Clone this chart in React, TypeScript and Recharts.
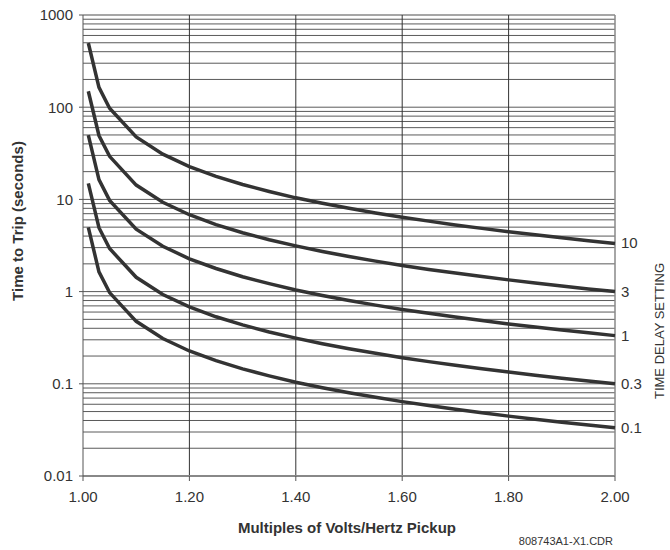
import {
  LineChart,
  Line,
  XAxis,
  YAxis,
  ReferenceLine,
  LabelList,
} from "recharts";

// multiples of V/Hz pickup
const multiples = [
  1.01, 1.03, 1.05, 1.1, 1.15, 1.2, 1.25, 1.3, 1.35, 1.4, 1.45, 1.5, 1.55, 1.6,
  1.65, 1.7, 1.75, 1.8, 1.85, 1.9, 1.95, 2.0,
];

// time to trip (s) for each time delay setting
const td10 = [
  497, 164, 97.6, 47.6, 31.0, 22.7, 17.8, 14.5, 12.2, 10.4, 9.07, 8.0, 7.13,
  6.41, 5.81, 5.29, 4.85, 4.46, 4.13, 3.83, 3.57, 3.33,
];
const td3 = [
  149, 49.3, 29.3, 14.3, 9.3, 6.82, 5.33, 4.35, 3.65, 3.13, 2.72, 2.4, 2.14,
  1.92, 1.74, 1.59, 1.46, 1.34, 1.24, 1.15, 1.07, 1.0,
];
const td1 = [
  49.7, 16.4, 9.76, 4.76, 3.1, 2.27, 1.78, 1.45, 1.22, 1.04, 0.907, 0.8, 0.713,
  0.641, 0.581, 0.529, 0.485, 0.446, 0.413, 0.383, 0.357, 0.333,
];
const td03 = [
  14.9, 4.93, 2.93, 1.43, 0.93, 0.682, 0.533, 0.435, 0.365, 0.313, 0.272, 0.24,
  0.214, 0.192, 0.174, 0.159, 0.146, 0.134, 0.124, 0.115, 0.107, 0.1,
];
const td01 = [
  4.97, 1.64, 0.976, 0.476, 0.31, 0.227, 0.178, 0.145, 0.122, 0.104, 0.0907,
  0.08, 0.0713, 0.0641, 0.0581, 0.0529, 0.0485, 0.0446, 0.0413, 0.0383,
  0.0357, 0.0333,
];

const seriesNames = ["10", "3", "1", "0.3", "0.1"];
const seriesKeys = ["td10", "td3", "td1", "td03", "td01"];

const xTicks = [1.0, 1.2, 1.4, 1.6, 1.8, 2.0];
const yTicks = [0.01, 0.1, 1, 10, 100, 1000];

const data = multiples.map((m, i) => ({
  x: m,
  td10: td10[i],
  td3: td3[i],
  td1: td1[i],
  td03: td03[i],
  td01: td01[i],
}));

// horizontal grid on every log step
const gridValues: number[] = [];
yTicks.slice(0, -1).forEach((d) => {
  for (let k = 1; k <= 9; k++) gridValues.push(+(d * k).toPrecision(3));
});

const FONT = "'Liberation Sans', Arial, sans-serif";
const last = multiples.length - 1;

export default function App() {
  const endLabel = (name: string) => (props: any) => {
    if (props.index !== last) return null;
    return (
      <text
        x={props.x + 6}
        y={props.y}
        dy={5}
        fontSize={15}
        fill="#333"
        fontFamily={FONT}>
        {name}
      </text>
    );
  };

  return (
    <div style={{ position: "absolute", left: 0, top: 0, width: 670, height: 550, background: "#fff" }}>
      <LineChart
        width={670}
        height={550}
        data={data}
        margin={{ top: 15, right: 55, bottom: 44, left: 8 }}>
        {gridValues.map((v) => (
          <ReferenceLine key={"h" + v} y={v} stroke="#5a5a5a" strokeWidth={1} />
        ))}
        <ReferenceLine y={1000} stroke="#888" strokeWidth={1.5} />
        {xTicks.slice(1, -1).map((v) => (
          <ReferenceLine key={"v" + v} x={v} stroke="#333" strokeWidth={1} />
        ))}
        <ReferenceLine x={2} stroke="#888" strokeWidth={1.5} />
        <XAxis
          dataKey="x"
          type="number"
          domain={[1, 2]}
          ticks={xTicks}
          tickFormatter={(v: number) => v.toFixed(2)}
          axisLine={{ stroke: "#888", strokeWidth: 2 }}
          tickLine={{ stroke: "#555" }}
          tickSize={5}
          tickMargin={10}
          height={30}
          tick={{ fill: "#333", fontSize: 15, fontFamily: FONT }}
        />
        <YAxis
          scale="log"
          type="number"
          domain={[0.01, 1000]}
          ticks={yTicks}
          allowDataOverflow
          tickFormatter={(v: number) => String(v)}
          axisLine={{ stroke: "#555" }}
          tickLine={{ stroke: "#555" }}
          tickSize={4}
          tickMargin={6}
          width={75}
          tick={{ fill: "#333", fontSize: 15, fontFamily: FONT }}
        />
        {seriesKeys.map((k, i) => (
          <Line
            key={k}
            dataKey={k}
            stroke="#333"
            strokeWidth={3.5}
            dot={false}
            type="linear"
            isAnimationActive={false}>
            <LabelList dataKey={k} content={endLabel(seriesNames[i])} />
          </Line>
        ))}
      </LineChart>
      <svg
        width={670}
        height={550}
        style={{ position: "absolute", left: 0, top: 0, pointerEvents: "none" }}>
        <text
          transform="translate(17,221) rotate(-90)"
          textAnchor="middle"
          dominantBaseline="central"
          fontSize={15}
          fontWeight="bold"
          fill="#333"
          fontFamily={FONT}>
          Time to Trip (seconds)
        </text>
        <text
          x={347}
          y={533}
          textAnchor="middle"
          fontSize={15}
          fontWeight="bold"
          fill="#333"
          fontFamily={FONT}>
          Multiples of Volts/Hertz Pickup
        </text>
        <text
          transform="translate(659,331) rotate(-90)"
          textAnchor="middle"
          dominantBaseline="central"
          fontSize={13}
          fill="#333"
          fontFamily={FONT}>
          TIME DELAY SETTING
        </text>
        <text x={613} y={545} textAnchor="end" fontSize={11} fill="#333" fontFamily={FONT}>
          808743A1-X1.CDR
        </text>
      </svg>
    </div>
  );
}
